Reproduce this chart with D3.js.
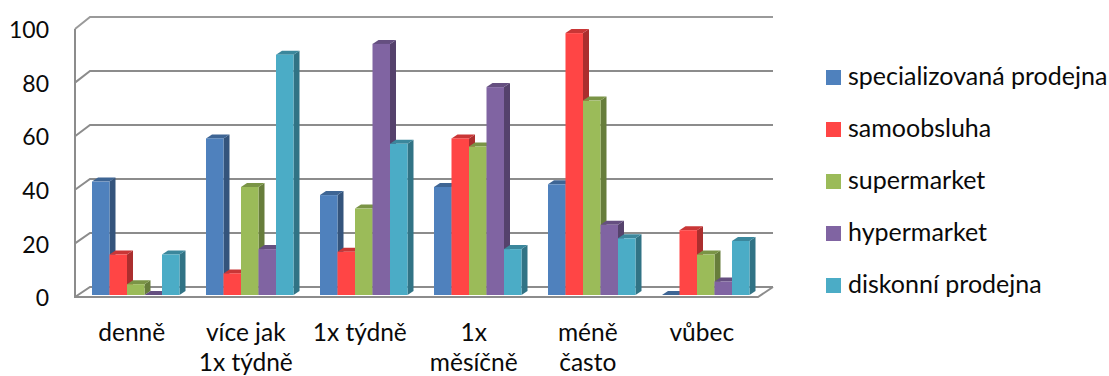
<!DOCTYPE html>
<html lang="cs">
<head>
<meta charset="utf-8">
<script src="https://cdn.jsdelivr.net/npm/d3@7/dist/d3.min.js"></script>
<style>
  html, body { margin: 0; padding: 0; background: #fff; }
  svg { display: block; }
  text { font-family: Lato, "Open Sans", sans-serif; fill: #0a0a0a; }
</style>
</head>
<body>
<svg id="chart" width="1109" height="376"></svg>
<script>
// Shopping frequency by store type, drawn as pseudo-3D clustered columns.
const categories = [["denně"], ["více jak", "1x týdně"], ["1x týdně"], ["1x", "měsíčně"], ["méně", "často"], ["vůbec"]];
const seriesNames = ["specializovaná prodejna", "samoobsluha", "supermarket", "hypermarket", "diskonní prodejna"];
const specializovana = [42, 58, 37, 40, 41, 0];
const samoobsluha = [15, 8, 16, 58, 97, 24];
const supermarket = [4, 40, 32, 55, 72, 15];
const hypermarket = [0, 17, 93, 77, 26, 5];
const diskont = [15, 89, 56, 17, 21, 20];
const seriesValues = [specializovana, samoobsluha, supermarket, hypermarket, diskont];
const frontColors = ["#4f81bd", "#ff4545", "#9bbb59", "#8064a2", "#4bacc6"];
const sideColors = ["#34547c", "#ab2e2e", "#677d3b", "#55426c", "#317385"];
const topColors = ["#3e6594", "#c93636", "#7a9446", "#654f80", "#3b879c"];
const yTicks = [0, 20, 40, 60, 80, 100];

const svg = d3.select("#chart");
const wallColor = "#8c8c8c";

// Depth of the plot box and of a single column.
const boxDx = 15, boxDy = -10.5;
const barDx = 6, barDy = -4;

const yFront = d3.scaleLinear().domain([0, 100]).range([297, 29]);
const yBack = d3.scaleLinear().domain([0, 100]).range([287, 17]);
const yBar = d3.scaleLinear().domain([0, 100]).range([295, 25]);

const groupStep = 114, groupWidth = 87.5, firstGroup = 92;
const xGroup = d3.scaleBand()
  .domain(d3.range(categories.length))
  .range([firstGroup - (groupStep - groupWidth) / 2, firstGroup - (groupStep - groupWidth) / 2 + groupStep * categories.length])
  .paddingInner((groupStep - groupWidth) / groupStep)
  .paddingOuter((groupStep - groupWidth) / groupStep / 2);
const xBar = d3.scaleBand().domain(d3.range(seriesNames.length)).range([0, xGroup.bandwidth()]);

const xLeft = 75, xFloorRight = 758;

// Back wall gridlines with their diagonal returns on the side wall.
const walls = svg.append("g")
  .attr("fill", "none")
  .attr("stroke", wallColor)
  .attr("stroke-width", 2);

walls.selectAll("path.grid")
  .data(yTicks)
  .join("path")
  .attr("class", "grid")
  .attr("stroke", d => d === 100 ? "#9a9a9a" : wallColor)
  .attr("d", d => d3.line()([[xLeft, yFront(d)], [xLeft + boxDx, yBack(d)], [xFloorRight + boxDx, yBack(d)]]));

walls.append("path")
  .attr("d", d3.line()([[xLeft, yFront(100)], [xLeft, yFront(0)], [xFloorRight, yFront(0)], [xFloorRight + boxDx, yBack(0)]]));

// Columns: side, top and front faces for each value.
const groups = svg.selectAll("g.cat")
  .data(categories)
  .join("g")
  .attr("class", "cat")
  .attr("transform", (d, i) => `translate(${xGroup(i)},0)`);

groups.each(function (cat, ci) {
  const g = d3.select(this);
  seriesValues.forEach((vals, si) => {
    const v = vals[ci];
    const x0 = xBar(si), x1 = x0 + xBar.bandwidth();
    const yT = yBar(v), yB = yBar(0);
    const bar = g.append("g").attr("class", "bar");
    bar.append("polygon")
      .attr("fill", sideColors[si])
      .attr("points", [[x1, yT], [x1 + barDx, yT + barDy], [x1 + barDx, yB + barDy], [x1, yB]].join(" "));
    bar.append("polygon")
      .attr("fill", topColors[si])
      .attr("points", [[x0, yT], [x0 + barDx, yT + barDy], [x1 + barDx, yT + barDy], [x1, yT]].join(" "));
    if (v > 0) {
      bar.append("rect")
        .attr("x", x0).attr("y", yT)
        .attr("width", xBar.bandwidth()).attr("height", yB - yT)
        .attr("fill", frontColors[si]);
    }
  });
});

// Value axis labels.
const axisG = svg.append("g")
  .attr("transform", "translate(49,0)")
  .call(d3.axisLeft(yFront).tickValues(yTicks).tickSize(0).tickPadding(0).tickFormat(d3.format("d")));
axisG.select(".domain").remove();
axisG.selectAll("text")
  .attr("font-family", "Lato, 'Open Sans', sans-serif")
  .attr("font-size", 23)
  .attr("dy", "0.38em")
  .style("fill", "#0a0a0a");

// Category labels, one or two lines each.
const labels = svg.selectAll("text.catlabel")
  .data(categories)
  .join("text")
  .attr("class", "catlabel")
  .attr("font-size", 24.5)
  .attr("text-anchor", "middle");
labels.selectAll("tspan")
  .data((d, i) => d.map(line => ({ line, i })))
  .join("tspan")
  .attr("x", d => xGroup(d.i) + xGroup.bandwidth() / 2 - 4)
  .attr("y", (d, j) => 341 + j * 29.5)
  .text(d => d.line);

// Legend.
const legend = svg.selectAll("g.legend")
  .data(seriesNames)
  .join("g")
  .attr("class", "legend")
  .attr("transform", (d, i) => `translate(826,${70 + i * 52})`);
legend.append("rect")
  .attr("width", 15).attr("height", 15)
  .attr("fill", (d, i) => frontColors[i]);
legend.append("text")
  .attr("x", 22).attr("y", 15)
  .attr("font-size", 25)
  .text(d => d);
</script>
</body>
</html>
